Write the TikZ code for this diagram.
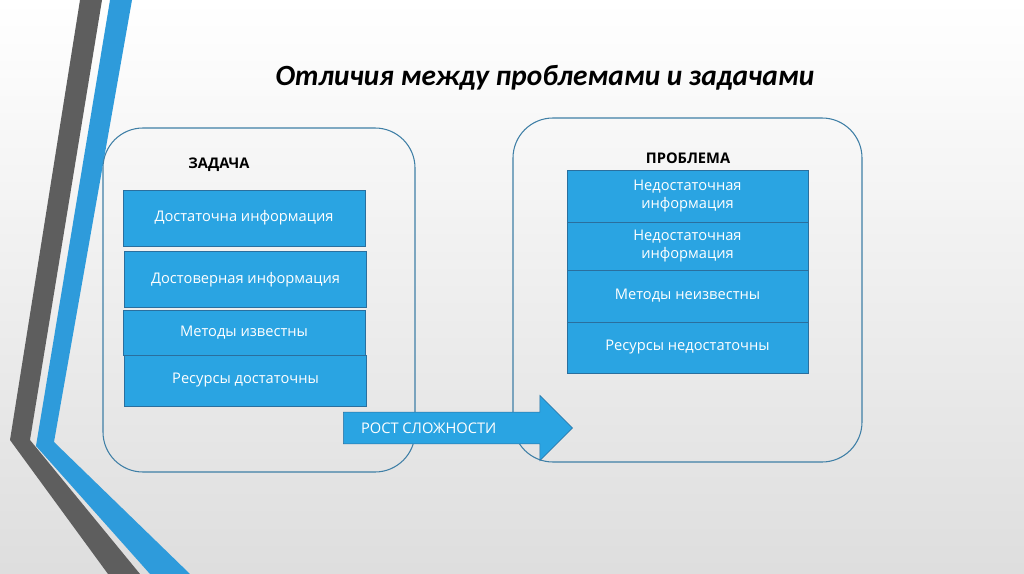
\documentclass[tikz,border=0pt]{standalone}
\usepackage{fontspec}
\setmainfont{Open Sans}
\newfontfamily\titlefont{Carlito}
\usetikzlibrary{shapes.arrows}
\definecolor{boxblue}{HTML}{2AA4E2}
\definecolor{boxedge}{HTML}{2A6F9E}
\definecolor{frameblue}{HTML}{3F7FA6}
\definecolor{stripegray}{HTML}{5E5E5E}
\definecolor{stripeblue}{HTML}{2E9BDB}
\tikzset{
  infobox/.style={fill=boxblue, draw=boxedge, text=white, align=center, font=\fontsize{11}{13}\selectfont, inner sep=0pt},
  frame/.style={draw=frameblue, rounded corners=30pt, thick}
}
\begin{document}
\begin{tikzpicture}[x=0.75pt, y=-0.75pt]

        % background and margins
        \shade[top color=white, bottom color=black!13] (0,0) rectangle (1024,574);
        \useasboundingbox (0,0) rectangle (1024,574);
        % decorative stripes
        \fill[stripegray] (80,0) -- (102,0) -- (30,440) -- (140,574) -- (108,574) -- (10,440) -- cycle;
        \fill[stripeblue] (110,0) -- (132,0) -- (54,442) -- (190,574) -- (150,574) -- (36,446) -- cycle;

        % title
        \node (title) at (545,78) {\titlefont\bfseries\itshape\fontsize{22}{24}\selectfont Отличия между проблемами и задачами};

        % frames
        \draw[frame] (103,128) rectangle (415,472);
        \draw[frame] (513,118) rectangle (862,462);

        \node[font=\bfseries\fontsize{11}{13}\selectfont] (task) at (219,165) {ЗАДАЧА};
        \node[font=\bfseries\fontsize{11}{13}\selectfont] (problem) at (688,158) {ПРОБЛЕМА};

        % task boxes
        \node[infobox, minimum width=181.5pt, minimum height=42pt] (t1) at (244,218) {Достаточна информация};
        \node[infobox, minimum width=181.5pt, minimum height=42pt] (t2) at (245.5,279.5) {Достоверная информация};
        \node[infobox, minimum width=181.5pt, minimum height=34pt] (t3) at (244,332.5) {Методы известны};
        \node[infobox, minimum width=181.5pt, minimum height=38pt] (t4) at (245.5,380.5) {Ресурсы достаточны};

        % problem boxes
        \node[infobox, minimum width=181pt, minimum height=39pt] (p1) at (687.5,196) {Недостаточная\\информация};
        \node[infobox, minimum width=181pt, minimum height=36pt] (p2) at (687.5,246) {Недостаточная\\информация};
        \node[infobox, minimum width=181pt, minimum height=39pt] (p3) at (687.5,296) {Методы неизвестны};
        \node[infobox, minimum width=181pt, minimum height=38pt] (p4) at (687.5,347.5) {Ресурсы недостаточны};

        % growth arrow
        \node[single arrow, fill=boxblue, draw=boxedge, text=white, font=\fontsize{11}{13}\selectfont,
              minimum height=172pt, minimum width=49pt, single arrow head extend=12pt,
              single arrow tip angle=90, inner xsep=2pt, inner ysep=7pt, anchor=west] (grow) at (343,428)
              {\hspace*{-14pt}РОСТ СЛОЖНОСТИ\hspace*{18pt}};

\end{tikzpicture}
\end{document}
